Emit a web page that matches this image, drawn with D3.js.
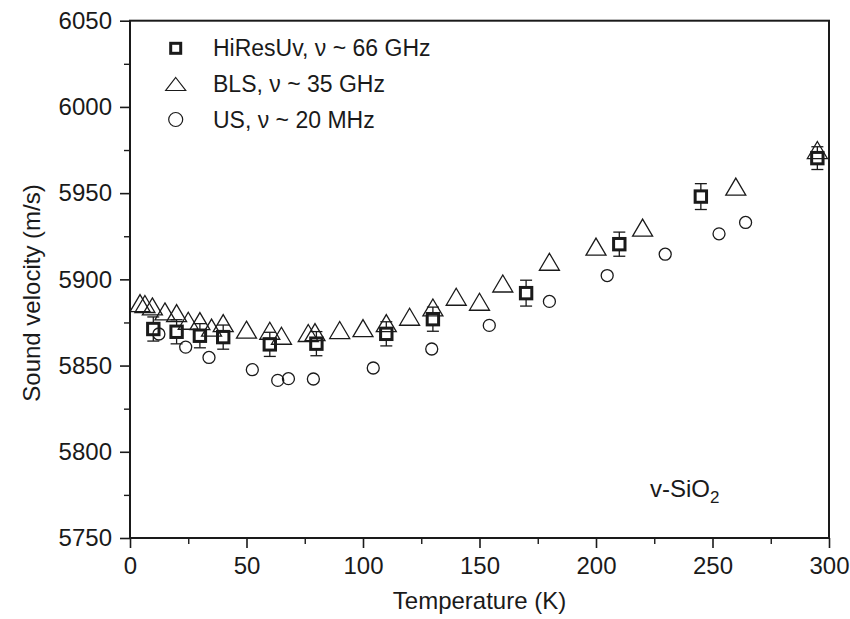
<!DOCTYPE html>
<html>
<head>
<meta charset="utf-8">
<script src="https://cdn.jsdelivr.net/npm/d3@7"></script>
<style>
  body { margin: 0; background: #fff; }
  text { font-family: "Liberation Sans", Arial, sans-serif; fill: #1a1a1a; }
</style>
</head>
<body>
<div class="chart"></div>
<script>
// values
const hiresT = [10, 20, 30, 40, 60, 80, 110, 130, 170, 210, 245, 295];
const hiresV = [5871.2, 5869.6, 5867.3, 5866.5, 5862.3, 5862.7, 5868.4, 5876.9, 5892, 5920.4, 5948, 5970.3];
const hiresErr = [7, 7, 7, 7, 7, 7, 7, 7, 7.5, 7, 7.5, 6.6];

const blsT = [4.3, 6.4, 9.6, 15, 20, 25, 30, 35, 40, 50, 60, 65, 76.5, 79.4, 90, 100, 110, 120, 130, 140, 150, 160, 180, 200, 220, 260, 295];
const blsV = [5886.2, 5885.7, 5884.3, 5881.4, 5880.4, 5876, 5875.8, 5872, 5874.6, 5870.8, 5870.2, 5867.3, 5868.9, 5869.4, 5870.6, 5871.7, 5874.6, 5878.3, 5883.7, 5889.9, 5887, 5897.6, 5910.2, 5919, 5930, 5953.8, 5975];

const usT = [12.4, 23.9, 33.9, 52.5, 63.4, 68, 78.7, 104.4, 129.5, 154.2, 180, 204.8, 229.7, 252.8, 264.2];
const usV = [5868.3, 5860.7, 5854.7, 5847.6, 5841.4, 5842.4, 5842.2, 5848.6, 5859.6, 5873.3, 5887.2, 5902.2, 5914.6, 5926.4, 5933];

const xTicks = [0, 50, 100, 150, 200, 250, 300];
const xMinor = [25, 75, 125, 175, 225, 275];
const yTicks = [5750, 5800, 5850, 5900, 5950, 6000, 6050];
const yMinor = [5775, 5825, 5875, 5925, 5975, 6025];
const legendLabels = ["HiResUv, \u03bd ~ 66 GHz", "BLS, \u03bd ~ 35 GHz", "US, \u03bd ~ 20 MHz"];

// global sizes
const W = 850;
const H = 619;
const MARGIN = { top: 20.7, right: 21, bottom: 81, left: 130 };
const INK = "#1a1a1a";
const FS = 24;

var x = d3.scaleLinear().domain([0, 300]).range([MARGIN.left, W - MARGIN.right]);
var y = d3.scaleLinear().domain([5750, 6050]).range([H - MARGIN.bottom, MARGIN.top]);

var svg = d3
  .select(".chart")
  .append("svg")
  .attr("width", W)
  .attr("height", H);

// axes: major and minor ticks pointing outward
svg
  .append("g")
  .attr("transform", `translate(0,${y(5750)})`)
  .call(d3.axisBottom(x).tickValues(xTicks).tickSize(10).tickPadding(9).tickFormat(d3.format("d")))
  .call((g) => g.select(".domain").remove())
  .call((g) => g.selectAll(".tick line").attr("stroke", INK).attr("stroke-width", 1.6))
  .call((g) => g.selectAll(".tick text").attr("font-size", FS).attr("fill", INK));

svg
  .append("g")
  .attr("transform", `translate(0,${y(5750)})`)
  .call(d3.axisBottom(x).tickValues(xMinor).tickSize(6).tickFormat(""))
  .call((g) => g.select(".domain").remove())
  .call((g) => g.selectAll(".tick line").attr("stroke", INK).attr("stroke-width", 1.4));

svg
  .append("g")
  .attr("transform", `translate(${x(0)},0)`)
  .call(d3.axisLeft(y).tickValues(yTicks).tickSize(10).tickPadding(8).tickFormat(d3.format("d")))
  .call((g) => g.select(".domain").remove())
  .call((g) => g.selectAll(".tick line").attr("stroke", INK).attr("stroke-width", 1.6))
  .call((g) => g.selectAll(".tick text").attr("font-size", FS).attr("fill", INK));

svg
  .append("g")
  .attr("transform", `translate(${x(0)},0)`)
  .call(d3.axisLeft(y).tickValues(yMinor).tickSize(6).tickFormat(""))
  .call((g) => g.select(".domain").remove())
  .call((g) => g.selectAll(".tick line").attr("stroke", INK).attr("stroke-width", 1.4));

// frame
svg
  .append("rect")
  .attr("x", x(0))
  .attr("y", y(6050))
  .attr("width", x(300) - x(0))
  .attr("height", y(5750) - y(6050))
  .attr("fill", "none")
  .attr("stroke", INK)
  .attr("stroke-width", 2);

// axis titles
svg
  .append("text")
  .attr("x", (x(0) + x(300)) / 2)
  .attr("y", 609)
  .attr("text-anchor", "middle")
  .attr("font-size", FS)
  .text("Temperature (K)");

svg
  .append("text")
  .attr("transform", `translate(40,293) rotate(-90)`)
  .attr("text-anchor", "middle")
  .attr("font-size", FS)
  .text("Sound velocity (m/s)");

// sample label
var lab = svg
  .append("text")
  .attr("x", 650)
  .attr("y", 497)
  .attr("font-size", FS);
lab.append("tspan").text("v-SiO");
lab.append("tspan").attr("font-size", 17).attr("dy", 6).text("2");

// marker paths
const triPath = (w, h) => `M0,${-h / 2}L${w / 2},${h / 2}L${-w / 2},${h / 2}Z`;

var hires = hiresT.map((t, i) => ({ t: t, v: hiresV[i], e: hiresErr[i] }));
var bls = blsT.map((t, i) => ({ t: t, v: blsV[i] }));
var us = usT.map((t, i) => ({ t: t, v: usV[i] }));

// error bars for HiResUv
var eb = svg.append("g").attr("stroke", INK).attr("stroke-width", 1.3);
hires.forEach(function (d) {
  eb.append("line")
    .attr("x1", x(d.t)).attr("x2", x(d.t))
    .attr("y1", y(d.v + d.e)).attr("y2", y(d.v - d.e));
  [d.v + d.e, d.v - d.e].forEach(function (c) {
    eb.append("line")
      .attr("x1", x(d.t) - 6).attr("x2", x(d.t) + 6)
      .attr("y1", y(c)).attr("y2", y(c));
  });
});

svg
  .append("g")
  .selectAll("rect")
  .data(hires)
  .join("rect")
  .attr("x", (d) => x(d.t) - 5.7)
  .attr("y", (d) => y(d.v) - 5.7)
  .attr("width", 11.4)
  .attr("height", 11.4)
  .attr("fill", "#fff")
  .attr("stroke", INK)
  .attr("stroke-width", 3);

svg
  .append("g")
  .selectAll("path")
  .data(bls)
  .join("path")
  .attr("transform", (d) => `translate(${x(d.t)},${y(d.v)})`)
  .attr("d", triPath(20, 17))
  .attr("fill", "none")
  .attr("stroke", INK)
  .attr("stroke-width", 1.3);

svg
  .append("g")
  .selectAll("circle")
  .data(us)
  .join("circle")
  .attr("cx", (d) => x(d.t))
  .attr("cy", (d) => y(d.v))
  .attr("r", 6)
  .attr("fill", "none")
  .attr("stroke", INK)
  .attr("stroke-width", 1.3);

// legend
var legY = [48.3, 84, 119.5];
var leg = svg.append("g");
leg.append("rect")
  .attr("x", 175.7 - 5).attr("y", legY[0] - 5)
  .attr("width", 10).attr("height", 10)
  .attr("fill", "#fff").attr("stroke", INK).attr("stroke-width", 3);
leg.append("path")
  .attr("transform", `translate(175.7,${legY[1]})`)
  .attr("d", triPath(20, 13))
  .attr("fill", "none").attr("stroke", INK).attr("stroke-width", 1.2);
leg.append("circle")
  .attr("cx", 175.7).attr("cy", legY[2]).attr("r", 7)
  .attr("fill", "none").attr("stroke", INK).attr("stroke-width", 1.2);
leg.selectAll("text.lbl")
  .data(legendLabels)
  .join("text")
  .attr("class", "lbl")
  .attr("x", 213)
  .attr("y", (d, i) => legY[i] + 8)
  .attr("font-size", 23)
  .text((d) => d);
</script>
</body>
</html>
